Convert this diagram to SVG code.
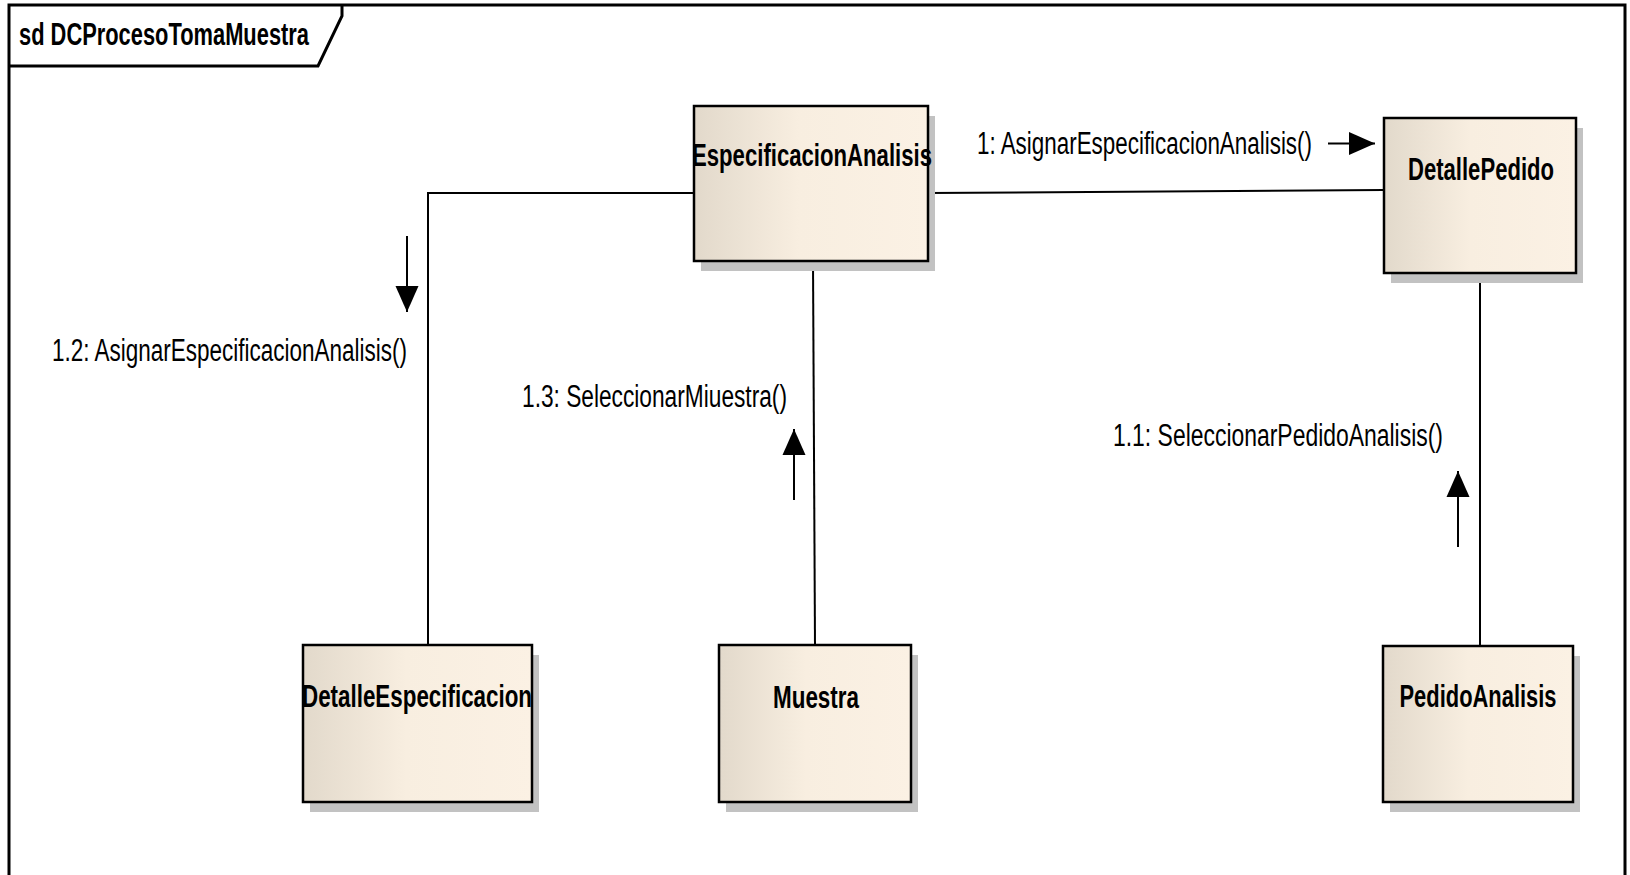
<svg xmlns="http://www.w3.org/2000/svg" width="1630" height="875" viewBox="0 0 1630 875">
  <style>
    .frame { fill: none; stroke: #000; stroke-width: 3; }
    .box { fill: url(#boxFill); stroke: #000; stroke-width: 2.5; }
    .shadow { fill: #c2c2c2; }
    .name { font-family: "Liberation Sans", Arial, sans-serif; font-weight: bold; font-size: 31px; fill: #000; }
    .msg { font-family: "Liberation Sans", Arial, sans-serif; font-size: 31px; fill: #000; }
    .link { fill: none; stroke: #000; stroke-width: 2; }
    .dir { fill: none; stroke: #000; stroke-width: 2; marker-end: url(#head); }
  </style>
  <defs>
    <linearGradient id="boxFill" x1="0" y1="0" x2="1" y2="0">
      <stop offset="0" stop-color="#e2d9cb"/>
      <stop offset="0.45" stop-color="#f8eee0"/>
      <stop offset="1" stop-color="#fbf1e4"/>
    </linearGradient>
    <marker id="head" markerUnits="userSpaceOnUse" markerWidth="28" markerHeight="24" refX="26" refY="12" orient="auto">
      <path d="M0,0.5 L26,12 L0,23.5 Z" fill="#000"/>
    </marker>
  </defs>

  <rect width="1630" height="875" fill="#fff"/>

  <!-- diagram frame and name tab -->
  <g id="frame">
    <path class="frame" d="M9,880 V5 H1625 V880"/>
    <path class="frame" d="M9,66 H318 L342,16 V5" stroke-width="2.5"/>
    <text class="name" x="19" y="45" textLength="290" lengthAdjust="spacingAndGlyphs">sd DCProcesoTomaMuestra</text>
  </g>

  <!-- links between objects -->
  <g id="connectors">
    <polyline class="link" points="694,193 428,193 428,645"/>
    <line class="link" x1="928" y1="193" x2="1384" y2="190"/>
    <line class="link" x1="813" y1="261" x2="815" y2="645"/>
    <line class="link" x1="1480" y1="273" x2="1480" y2="646"/>
  </g>

  <g id="node-especificacion-analisis">
    <rect class="shadow" x="701" y="116" width="234" height="155"/>
    <rect class="box" x="694" y="106" width="234" height="155"/>
    <text class="name" x="812" y="166" text-anchor="middle" textLength="240" lengthAdjust="spacingAndGlyphs">EspecificacionAnalisis</text>
  </g>

  <g id="node-detalle-pedido">
    <rect class="shadow" x="1391" y="128" width="192" height="155"/>
    <rect class="box" x="1384" y="118" width="192" height="155"/>
    <text class="name" x="1481" y="180" text-anchor="middle" textLength="146" lengthAdjust="spacingAndGlyphs">DetallePedido</text>
  </g>

  <g id="node-detalle-especificacion">
    <rect class="shadow" x="310" y="655" width="229" height="157"/>
    <rect class="box" x="303" y="645" width="229" height="157"/>
    <text class="name" x="417" y="707" text-anchor="middle" textLength="230" lengthAdjust="spacingAndGlyphs">DetalleEspecificacion</text>
  </g>

  <g id="node-muestra">
    <rect class="shadow" x="726" y="655" width="192" height="157"/>
    <rect class="box" x="719" y="645" width="192" height="157"/>
    <text class="name" x="816" y="708" text-anchor="middle" textLength="86" lengthAdjust="spacingAndGlyphs">Muestra</text>
  </g>

  <g id="node-pedido-analisis">
    <rect class="shadow" x="1390" y="656" width="190" height="156"/>
    <rect class="box" x="1383" y="646" width="190" height="156"/>
    <text class="name" x="1478" y="707" text-anchor="middle" textLength="157" lengthAdjust="spacingAndGlyphs">PedidoAnalisis</text>
  </g>

  <!-- messages -->
  <g id="messages">
    <text class="msg" x="977" y="154" textLength="335" lengthAdjust="spacingAndGlyphs">1: AsignarEspecificacionAnalisis()</text>
    <line class="dir" x1="1328" y1="143.5" x2="1375" y2="143.5"/>

    <text class="msg" x="1113" y="446" textLength="330" lengthAdjust="spacingAndGlyphs">1.1: SeleccionarPedidoAnalisis()</text>
    <line class="dir" x1="1458" y1="547" x2="1458" y2="471"/>

    <text class="msg" x="52" y="361" textLength="355" lengthAdjust="spacingAndGlyphs">1.2: AsignarEspecificacionAnalisis()</text>
    <line class="dir" x1="407" y1="236" x2="407" y2="312"/>

    <text class="msg" x="522" y="407" textLength="265" lengthAdjust="spacingAndGlyphs">1.3: SeleccionarMiuestra()</text>
    <line class="dir" x1="794" y1="500" x2="794" y2="429"/>
  </g>
</svg>
